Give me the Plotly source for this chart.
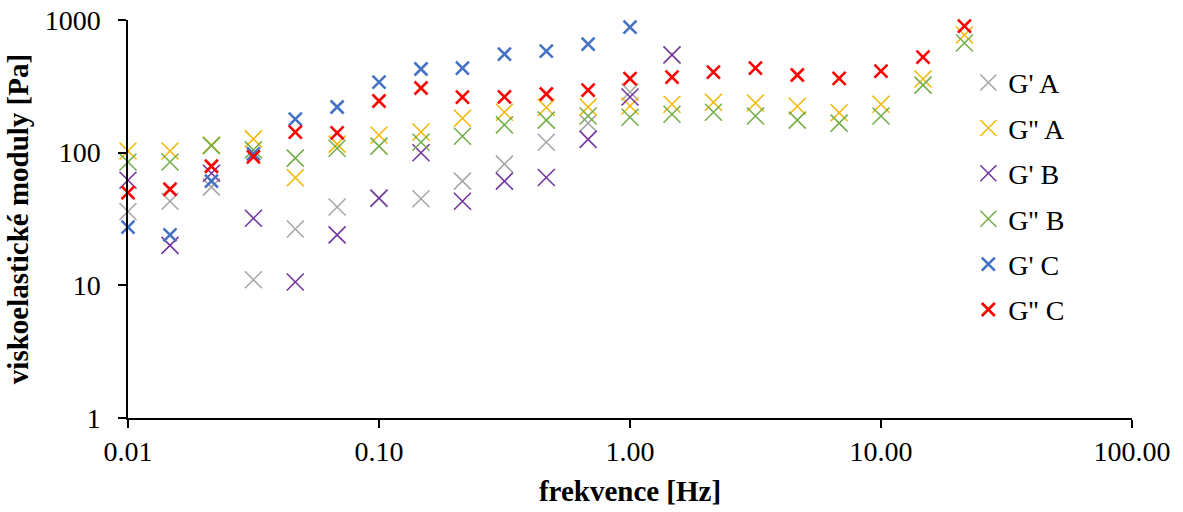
import plotly.graph_objects as go

freq = [0.01, 0.0147, 0.0215, 0.0316, 0.0464, 0.0681, 0.1, 0.147, 0.215, 0.316,
        0.464, 0.681, 1.0, 1.47, 2.15, 3.16, 4.64, 6.81, 10.0, 14.7, 21.5]

g1_A = [36, 43, 55, 11, 26.6, 39, 45, 45, 61, 82, 120, 167, 287, 550]
g2_A = [103, 103, 114, 127, 64.6, 116, 136, 143, 182, 202, 219, 221, 225, 232,
        240, 237, 224, 200, 232, 359, 770]
g1_B = [62, 20, 70, 32, 10.6, 24, 45.5, 100, 43, 61, 65, 126, 263, 544]
g2_B = [85, 85, 113, 105, 91, 108, 112, 120, 133, 162, 176, 189, 185, 195,
        202, 189, 176, 167, 189, 323, 670]
g1_C = [27.5, 24, 61, 98, 179, 221, 340, 427, 434, 553, 583, 658, 884]
g2_C = [50, 53, 79, 93, 143, 141, 245, 307, 262, 263, 277, 296, 361, 371,
        405, 434, 385, 363, 412, 525, 900]

names = ["G' A", "G'' A", "G' B", "G'' B", "G' C", "G'' C"]
series = [g1_A, g2_A, g1_B, g2_B, g1_C, g2_C]
colors = ["#A5A5A5", "#F2B600", "#7030A0", "#70AD47", "#4472C4", "#FF0000"]
sizes = [17, 17, 17, 17, 13, 13]
widths = [1.5, 1.5, 1.5, 1.5, 2.6, 2.6]

FONT = "Liberation Serif"

fig = go.Figure()
for i, (n, s) in enumerate(zip(names, series)):
    fig.add_trace(go.Scatter(
        x=freq[:len(s)], y=s, mode="markers", name=n, legendgroup=str(i),
        marker=dict(symbol="x-thin", size=sizes[i], color=colors[i],
                    line=dict(color=colors[i], width=widths[i])),
        cliponaxis=False,
    ))

fig.update_layout(
    width=1183, height=512,
    margin=dict(l=128, r=51, t=20, b=94),
    paper_bgcolor="white", plot_bgcolor="white",
    font=dict(family=FONT, size=28, color="black"),
    showlegend=True,
    legend=dict(x=0.837, y=0.905, xanchor="left", yanchor="top",
                traceorder="grouped", tracegroupgap=6, itemwidth=30,
                font=dict(family=FONT, size=28, color="black"),
                bgcolor="rgba(0,0,0,0)"),
)
fig.update_xaxes(
    type="log", range=[-2, 2], tickvals=[0.01, 0.1, 1, 10, 100], tickformat=".2f",
    showgrid=False, zeroline=False, showline=True, linecolor="black", linewidth=1.5,
    ticks="outside", ticklen=8, tickwidth=1.5, tickcolor="black", automargin=False,
    tickfont=dict(family=FONT, size=28, color="black"),
    title=dict(text="<b>frekvence [Hz]</b>", font=dict(family=FONT, size=29, color="black"),
               standoff=14),
)
fig.update_yaxes(
    type="log", range=[0, 3], tickvals=[1, 10, 100, 1000], tickformat="d",
    showgrid=False, zeroline=False, showline=True, linecolor="black", linewidth=1.5,
    ticks="outside", ticklen=8, tickwidth=1.5, tickcolor="black", automargin=False,
    tickfont=dict(family=FONT, size=28, color="black"),
    ticklabelstandoff=12,
    title=dict(text="<b>viskoelastické moduly [Pa]</b>",
               font=dict(family=FONT, size=29, color="black"), standoff=8),
)

fig.write_html("out.html")
